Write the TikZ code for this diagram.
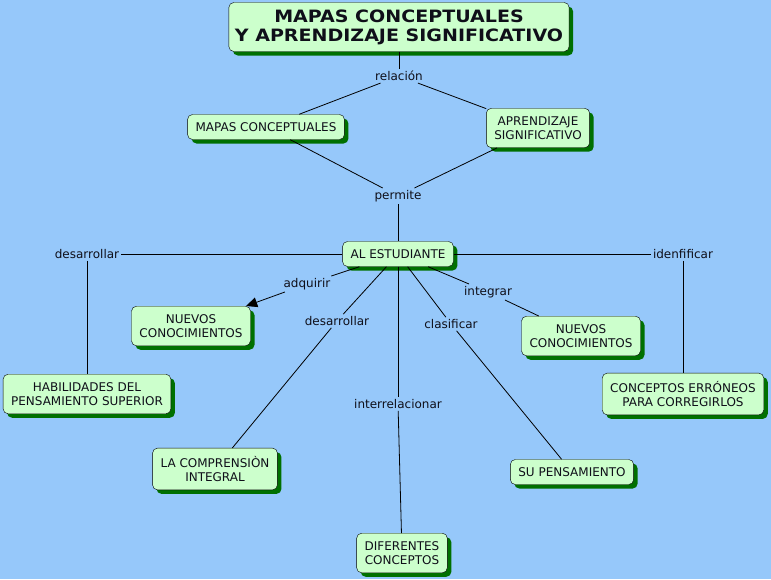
\documentclass[tikz,border=0pt]{standalone}
\usepackage{fontspec}
\setmainfont{DejaVu Sans}
\newfontfamily\titlefont[FakeStretch=1.12]{DejaVu Sans}
\usepackage{tikz}
\usetikzlibrary{shapes,arrows.meta,shadows}
\definecolor{mapaBack}{RGB}{150,200,250}
\definecolor{mapaGreen}{RGB}{204,255,204}
\definecolor{mapaShadow}{RGB}{0,112,0}
\definecolor{mapaInk}{RGB}{15,15,25}

\begin{document}
\begin{tikzpicture}[x=1pt,y=-1pt,
  concept/.style={rectangle,rounded corners=5pt,draw=black,fill=mapaGreen,
                  drop shadow={shadow xshift=4pt,shadow yshift=-4pt,fill=mapaShadow,opacity=1},
                  align=center,text=mapaInk,font=\fontsize{12}{14.5}\selectfont,
                  inner xsep=8pt,inner ysep=8pt},
  linkword/.style={inner sep=2pt,text=mapaInk,font=\fontsize{12}{14.5}\selectfont},
  link/.style={draw=black,line width=0.8pt}
]
% background
\fill[mapaBack] (0,0) rectangle (771,579);
\useasboundingbox (0,0) rectangle (771,579);
% title
\node[concept,font=\titlefont\fontsize{17}{19}\selectfont\bfseries,inner xsep=6pt,inner ysep=7pt] (titulo) at (399,27)
  {MAPAS CONCEPTUALES\\Y APRENDIZAJE SIGNIFICATIVO};
% top
\node[linkword] (relacion) at (399,76) {relación};
\node[concept] (mapas) at (266,127) {MAPAS CONCEPTUALES};
\node[concept] (aprendizaje) at (538,128) {APRENDIZAJE\\SIGNIFICATIVO};
\node[linkword] (permite) at (398,196) {permite};
\node[concept] (estudiante) at (398,254) {AL ESTUDIANTE};
% sides
\node[linkword] (desarrollarA) at (87,254) {desarrollar};
\node[concept] (habilidades) at (87,394) {HABILIDADES DEL\\PENSAMIENTO SUPERIOR};
\node[linkword] (identificar) at (683,254) {idenfificar};
\node[concept] (erroneos) at (683,394) {CONCEPTOS ERRÓNEOS\\PARA CORREGIRLOS};
% below
\node[linkword] (adquirir) at (307,284) {adquirir};
\node[concept] (nuevosA) at (191,326) {NUEVOS\\CONOCIMIENTOS};
\node[linkword] (desarrollarB) at (337,321) {desarrollar};
\node[concept] (comprension) at (215,469) {LA COMPRENSIÒN\\INTEGRAL};
\node[linkword] (interrelacionar) at (398,404) {interrelacionar};
\node[concept] (diferentes) at (402,553) {DIFERENTES\\CONCEPTOS};
\node[linkword] (clasificar) at (451,324) {clasificar};
\node[concept] (pensamiento) at (572,472) {SU PENSAMIENTO};
\node[linkword] (integrar) at (488,292) {integrar};
\node[concept] (nuevosB) at (581,336) {NUEVOS\\CONOCIMIENTOS};
% Links
\foreach \a/\b in {titulo/relacion,relacion/mapas,relacion/aprendizaje,
                   mapas/permite,aprendizaje/permite,permite/estudiante,
                   estudiante/desarrollarA,desarrollarA/habilidades,
                   estudiante/identificar,identificar/erroneos,
                   estudiante/adquirir,estudiante/desarrollarB,desarrollarB/comprension,
                   estudiante/interrelacionar,interrelacionar/diferentes,
                   estudiante/clasificar,clasificar/pensamiento,
                   estudiante/integrar,integrar/nuevosB} {
  \draw[link] (\a) -- (\b);
}
\draw[link,-{Triangle[length=11pt,width=10pt]}] (adquirir) -- (nuevosA);
\end{tikzpicture}
\end{document}
